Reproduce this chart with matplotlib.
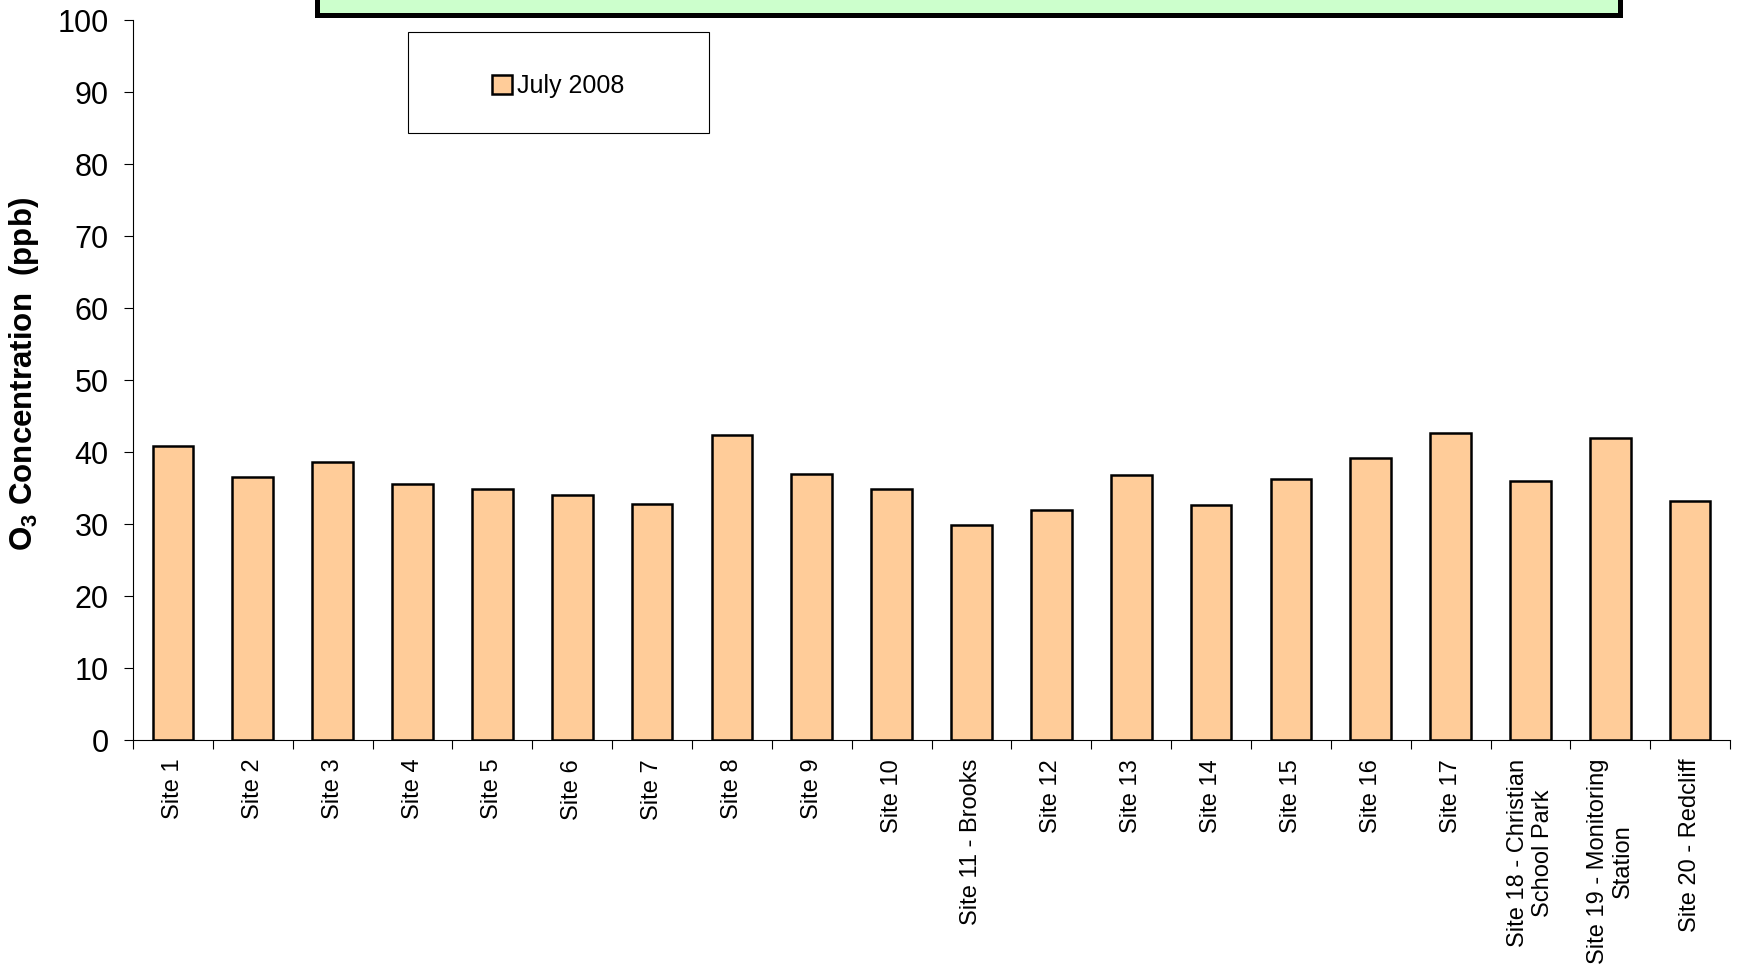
#!/usr/bin/env python3
# coding: utf-8

import numpy as np
import matplotlib
matplotlib.use("Agg")
import matplotlib.pyplot as plt
from matplotlib.patches import Rectangle

plt.rcParams['font.family'] = ['Liberation Sans', 'DejaVu Sans']
plt.rcParams['mathtext.fontset'] = 'custom'
plt.rcParams['mathtext.rm'] = 'Liberation Sans'
plt.rcParams['mathtext.bf'] = 'Liberation Sans:bold'

# Site names (x axis)
sites = ["Site 1", "Site 2", "Site 3", "Site 4", "Site 5", "Site 6", "Site 7",
         "Site 8", "Site 9", "Site 10", "Site 11 - Brooks", "Site 12",
         "Site 13", "Site 14", "Site 15", "Site 16", "Site 17",
         "Site 18 - Christian\nSchool Park", "Site 19 - Monitoring\nStation",
         "Site 20 - Redcliff"]
# O3 values, ppb
july_2008 = [40.9, 36.5, 38.6, 35.5, 34.8, 34.0, 32.8, 42.3, 36.9, 34.8,
             29.8, 32.0, 36.8, 32.6, 36.2, 39.2, 42.6, 36.0, 42.0, 33.2]
series_name = "July 2008"
y_ticks = list(range(0, 101, 10))

fig = plt.figure(figsize=(17.37, 9.67), dpi=100)
ax = fig.add_axes([0.0766, 0.2347, 0.9194, 0.7446])

x = np.arange(len(sites))
ax.bar(x, july_2008, width=0.51, color="#FFCC99", edgecolor="black",
       linewidth=1.8, label=series_name, zorder=3)

ax.set_xlim(-0.5, len(sites) - 0.5)
ax.set_ylim(0, 100)
ax.set_yticks(y_ticks)
ax.tick_params(axis="y", labelsize=22, length=6.5, width=0.8, pad=11)

ax.set_xticks(x)
ax.set_xticklabels(sites, rotation=90, fontsize=17, multialignment="center",
                   va="top", ha="center")
ax.tick_params(axis="x", which="major", length=0, pad=13.5)
ax.set_xticks(np.arange(-0.5, len(sites)), minor=True)
ax.tick_params(axis="x", which="minor", length=6.5, width=0.8)

for s in ["top", "right"]:
    ax.spines[s].set_visible(False)
for s in ["left", "bottom"]:
    ax.spines[s].set_linewidth(0.8)

# y label
fig.text(0.0138, 0.613, r"$\mathbf{O_3}$" + " Concentration  (ppb)",
         rotation=90, ha="center", va="center", fontsize=22.5,
         fontweight="bold")

# green title box (cut off at top)
fig.patches.append(Rectangle((0.1825, 0.9845), 0.7501, 0.1, facecolor="#CCFFCC",
                             edgecolor="black", linewidth=3.6,
                             transform=fig.transFigure, figure=fig))

# legend frame
fig.patches.append(Rectangle((0.2349, 0.8625), 0.1733, 0.1044, facecolor="white",
                             edgecolor="black", linewidth=0.8,
                             transform=fig.transFigure, figure=fig, zorder=4))
leg = fig.legend(loc="center", bbox_to_anchor=(0.3215, 0.9112), frameon=False,
                 fontsize=18, handlelength=0.8, handleheight=0.8,
                 handletextpad=0.2)
leg.set_zorder(5)

fig.savefig("out.png", dpi=100)
